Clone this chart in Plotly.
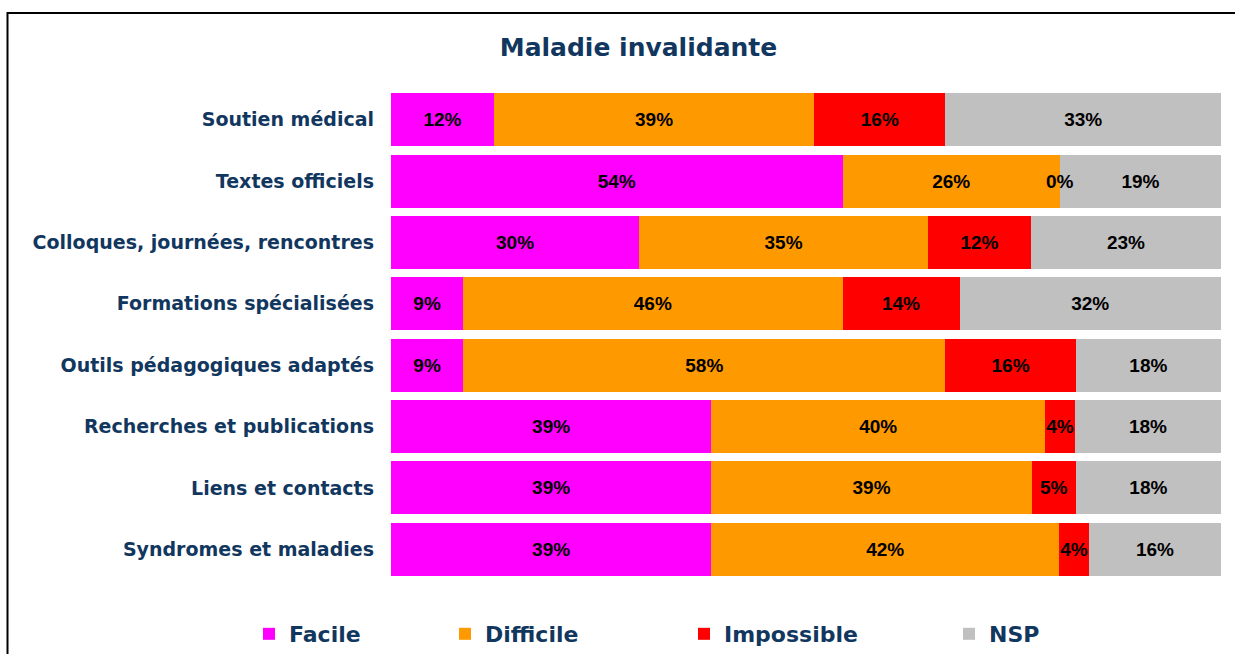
import plotly.graph_objects as go

categories = [
    "Soutien médical",
    "Textes officiels",
    "Colloques, journées, rencontres",
    "Formations spécialisées",
    "Outils pédagogiques adaptés",
    "Recherches et publications",
    "Liens et contacts",
    "Syndromes et maladies",
]
series_names = ["Facile", "Difficile", "Impossible", "NSP"]
facile = [12.4, 54.4, 29.9, 8.7, 8.7, 38.6, 38.6, 38.6]
difficile = [38.6, 26.2, 34.8, 45.7, 58.1, 40.2, 38.6, 41.9]
impossible = [15.8, 0.0, 12.4, 14.1, 15.7, 3.6, 5.3, 3.6]
nsp = [33.2, 19.4, 22.9, 31.5, 17.5, 17.6, 17.5, 15.9]
colors = ["#FF00FF", "#FF9900", "#FF0000", "#C0C0C0"]

NAVY = "#12375F"
TITLE_FONT = "Comic Sans MS, DejaVu Sans, sans-serif"
LABEL_FONT = dict(family="Liberation Sans, Arial, sans-serif", size=19, color="black", weight="bold")

# legend entry left positions (paper x) for each series
legend_x = [(249 - 391) / 830, (445 - 391) / 830, (684 - 391) / 830, (949 - 391) / 830]
legend_ids = ["legend", "legend2", "legend3", "legend4"]

series = [facile, difficile, impossible, nsp]
fig = go.Figure()
for name, vals, col, lid in zip(series_names, series, colors, legend_ids):
    fig.add_trace(go.Bar(
        y=categories, x=vals, name=name, orientation="h",
        marker=dict(color=col, line=dict(width=0)),
        texttemplate="%{x:.0f}%",
        textposition="inside", insidetextanchor="middle", textangle=0,
        textfont=LABEL_FONT,
        constraintext="none",
        cliponaxis=False,
        legend=lid,
    ))

# labels for zero-width segments (plotly does not draw text in empty bars)
annotations = []
for i, cat in enumerate(categories):
    start = 0.0
    for vals in series:
        v = vals[i]
        if v == 0:
            annotations.append(dict(
                x=start, y=cat, xref="x", yref="y", text=f"{v:.0f}%",
                showarrow=False, xanchor="center", yanchor="middle", font=LABEL_FONT,
            ))
        start += v

legend_common = dict(
    orientation="h", xanchor="left", y=-0.11, yanchor="middle",
    font=dict(family=TITLE_FONT, size=22, color=NAVY, weight="bold"),
    bgcolor="rgba(0,0,0,0)",
)
layout_legends = {}
for lid, lx in zip(legend_ids, legend_x):
    layout_legends[lid] = dict(legend_common, x=lx)

fig.update_layout(
    width=1235, height=654,
    barmode="stack", bargap=0.135,
    paper_bgcolor="white", plot_bgcolor="white",
    margin=dict(l=391, r=14, t=89, b=74, autoexpand=False),
    uniformtext=dict(mode="show", minsize=19),
    title=dict(
        text="<b>Maladie invalidante</b>", x=0.517, xanchor="center",
        y=0.928, yanchor="middle",
        font=dict(family=TITLE_FONT, size=25, color=NAVY),
    ),
    xaxis=dict(range=[0, 100], visible=False, fixedrange=True),
    yaxis=dict(
        autorange="reversed", showgrid=False, zeroline=False, showline=False,
        ticks="", ticklabelstandoff=16, fixedrange=True,
        tickfont=dict(family=TITLE_FONT, size=19, color=NAVY, weight="bold"),
    ),
    annotations=annotations,
    showlegend=True,
    shapes=[dict(
        type="rect", xref="paper", yref="paper",
        x0=(7.5 - 391) / 830, x1=(1240 - 391) / 830,
        y0=(580 - 700) / 491, y1=(580 - 13) / 491,
        line=dict(color="black", width=2), fillcolor="rgba(0,0,0,0)", layer="above",
    )],
    **layout_legends,
)

fig.write_html(
    "out.html",
    config={"displayModeBar": False},
    post_script="document.body.style.margin='0';",
)
